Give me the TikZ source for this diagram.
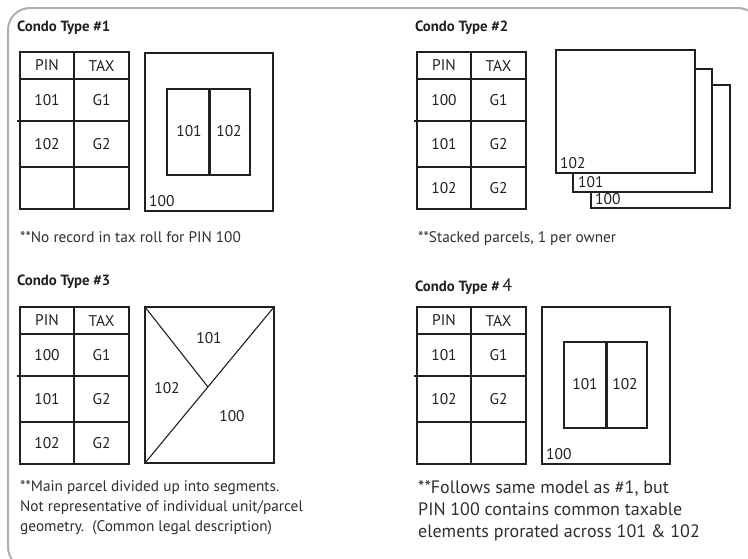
\documentclass[tikz,border=0pt]{standalone}
\usepackage{fontspec}
\setmainfont{PT Sans}
\definecolor{ink}{HTML}{231F20}
\definecolor{framec}{HTML}{A9B0BD}
\definecolor{notec}{HTML}{2E2E2E}
\newcommand\condotab[9]{%
  \begin{scope}[shift={(#2,#3)}]
    \draw[ln] (0,0) rectangle (109,157);
    \draw[ln] (54,0) -- (54,157);
    \draw[ln] (0,27) -- (109,27);
    \draw[ln] (-3,69) -- (109,69);
    \draw[ln] (0,115) -- (109,115);
    \node[cell] (#1pin) at (27,13.5) {PIN};
    \node[cell] (#1tax) at (81.5,13.5) {TAX};
    \node[cell] (#1a) at (27,48) {#4};
    \node[cell] (#1b) at (81.5,48) {#5};
    \node[cell] (#1c) at (27,92) {#6};
    \node[cell] (#1d) at (81.5,92) {#7};
    \node[cell] (#1e) at (27,136) {#8};
    \node[cell] (#1f) at (81.5,136) {#9};
  \end{scope}}
\begin{document}
\begin{tikzpicture}[x=1pt,y=-1pt,
  ln/.style={line width=1.7pt, draw=ink, line join=miter},
  thin/.style={line width=1.1pt, draw=ink},
  cell/.style={inner sep=0pt, font=\fontsize{15.5}{17}\selectfont, text=ink},
  lbl/.style={inner sep=0pt, font=\fontsize{15.5}{17}\selectfont, text=ink},
  title/.style={inner sep=0pt, anchor=base west, font=\fontsize{14.8}{17}\selectfont\bfseries, text=ink},
  note/.style={inner sep=0pt, anchor=base west, font=\fontsize{15.3}{17}\selectfont, text=notec},
  bignote/.style={inner sep=0pt, anchor=base west, font=\fontsize{18}{20}\selectfont, text=notec}]
\useasboundingbox (0,0) rectangle (748,558);
\begin{scope}
\clip (0,0) rectangle (748,558);
\draw[framec, line width=2pt, rounded corners=22pt] (8,8) rectangle (760,569);
\end{scope}

% Panel 1
\node[title] (t1) at (17,31) {Condo Type \#1};
\condotab{p1}{20}{52}{101}{G1}{102}{G2}{}{}
\draw[ln] (145,53) rectangle (273,211);
\draw[ln] (167,89) rectangle (250,175);
\draw[line width=3pt, draw=ink] (209,89) -- (209,175);
\node[lbl] (p1u1) at (189,131) {101};
\node[lbl] (p1u2) at (229,131) {102};
\node[lbl, anchor=base west] (p1m) at (149,206) {100};
\node[note] (n1) at (20,242) {**No record in tax roll for PIN 100};

% Panel 2
\node[title] (t2) at (415,31) {Condo Type \#2};
\condotab{p2}{417}{52}{100}{G1}{101}{G2}{102}{G2}
\draw[ln, fill=white] (591,85) rectangle (730,208);
\draw[ln, fill=white] (573,69) rectangle (712,192);
\draw[ln, fill=white] (556,50) rectangle (695,173);
\node[lbl, anchor=base west] (s102) at (560,168) {102};
\node[lbl, anchor=base west] (s101) at (578,187) {101};
\node[lbl, anchor=base west] (s100) at (595,204) {100};
\node[note] (n2) at (418,242) {**Stacked parcels, 1 per owner};

% Panel 3
\node[title] (t3) at (17,285) {Condo Type \#3};
\condotab{p3}{20}{307}{100}{G1}{101}{G2}{102}{G2}
\draw[ln] (145,307) rectangle (274,463);
\draw[thin] (145,307) -- (208,387);
\draw[thin] (145,463) -- (274,307);
\node[lbl] (g101) at (209,338) {101};
\node[lbl] (g102) at (167,388) {102};
\node[lbl] (g100) at (232,416) {100};
\node[note] (n3a) at (20,491) {**Main parcel divided up into segments.};
\node[note] (n3b) at (20,511) {Not representative of individual unit/parcel};
\node[note] (n3c) at (20,531) {geometry.\ \ (Common legal description)};

% Panel 4
\node[title] (t4) at (415,291) {Condo Type \#\,{\fontsize{18}{20}\selectfont\mdseries 4}};
\condotab{p4}{417}{307}{101}{G1}{102}{G2}{}{}
\draw[ln] (542,307) rectangle (670,464);
\draw[ln] (564,342) rectangle (647,428);
\draw[line width=3pt, draw=ink] (606,342) -- (606,428);
\node[lbl] (p4u1) at (585,384) {101};
\node[lbl] (p4u2) at (625,384) {102};
\node[lbl, anchor=base west] (p4m) at (546,459) {100};
\node[bignote] (n4a) at (418,493) {**Follows same model as \#1, but};
\node[bignote] (n4b) at (418,515) {PIN 100 contains common taxable};
\node[bignote] (n4c) at (418,537) {elements prorated across 101 \& 102};
\end{tikzpicture}
\end{document}
